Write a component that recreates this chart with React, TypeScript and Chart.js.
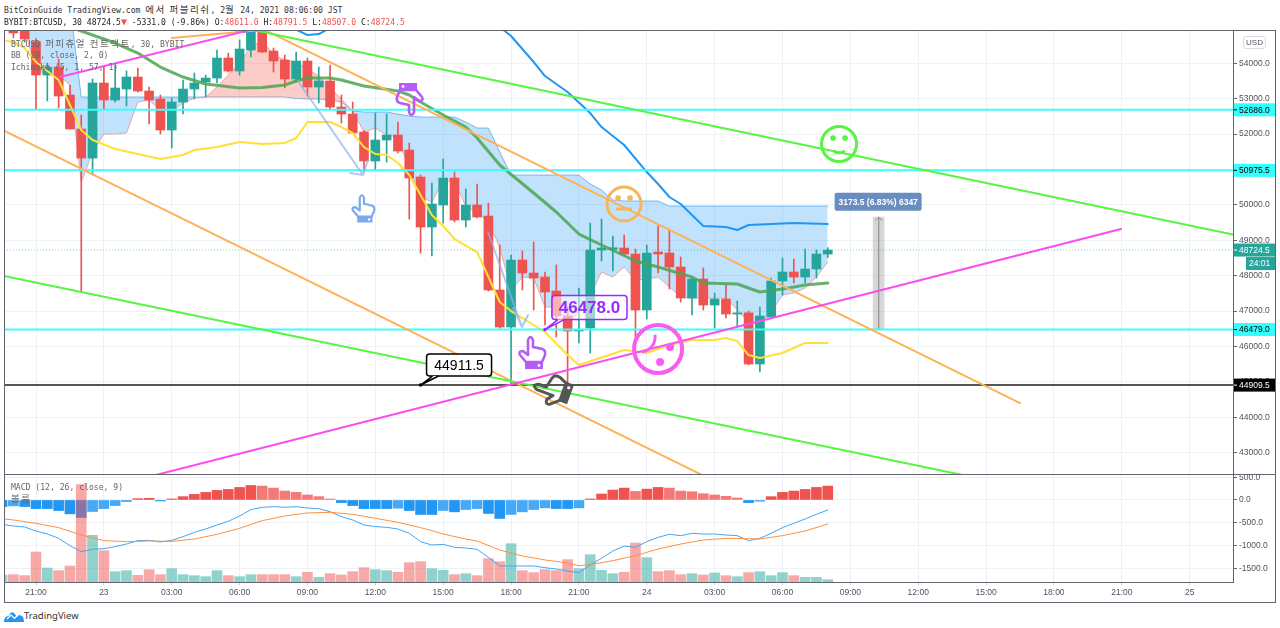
import React, { useEffect, useRef } from "react";
import { Chart } from "chart.js/auto";

// ---------- data ----------
const xTickLabels = ["21:00", "23", "03:00", "06:00", "09:00", "12:00", "15:00", "18:00", "21:00", "24", "03:00", "06:00", "09:00", "12:00", "15:00", "18:00", "21:00", "25"];
const xTickPositions = [2, 8, 14, 20, 26, 32, 38, 44, 50, 56, 62, 68, 74, 80, 86, 92, 98, 104];
const priceTicks = [43000, 44000, 45000, 46000, 47000, 48000, 49000, 50000, 51000, 52000, 53000, 54000];
const macdTicks = [-1500, -1000, -500, 0, 500];

const candleOpen = [54950, 54950, 54610, 53669, 53895, 53104, 52144, 51324, 53443, 52963, 53274, 53613, 53217, 52991, 52115, 52906, 53274, 53471, 53584, 54149, 53782, 54375, 54912, 54347, 54093, 53556, 54065, 53330, 53500, 52765, 52567, 52059, 51240, 51833, 51974, 51550, 50788, 49375, 49997, 50759, 49573, 49997, 49686, 47596, 46550, 48443, 48076, 47963, 47567, 46861, 46437, 46522, 48725, 48740, 48782, 48612, 47030, 48669, 48641, 48245, 47369, 47906, 47172, 47341, 46917, 46950, 45505, 46833, 47850, 48104, 47963, 48189, 48611];
const candleClose = [54856, 54686, 53669, 53895, 53076, 52144, 51324, 53443, 52963, 53302, 53613, 53217, 52963, 52115, 52906, 53274, 53443, 53584, 54149, 53782, 54404, 54960, 54319, 54065, 53556, 54065, 53330, 53500, 52765, 52567, 52031, 51240, 51833, 51974, 51522, 50759, 49375, 50025, 50759, 49573, 49997, 49658, 47596, 46550, 48443, 48076, 47934, 47539, 46861, 46437, 46480, 48725, 48782, 48790, 48612, 47030, 48641, 48612, 48245, 47369, 47906, 47172, 47341, 46917, 46950, 45505, 46861, 47850, 48104, 47963, 48189, 48612, 48724.5];
const candleHigh = [54990, 55000, 54700, 54008, 54121, 53387, 52539, 53556, 53895, 53952, 53782, 53867, 53330, 53104, 53019, 53528, 53726, 53669, 54375, 54291, 54658, 55000, 55000, 54430, 54234, 54319, 54149, 53895, 53952, 53104, 52906, 52100, 52596, 52567, 52341, 51748, 50844, 50618, 51296, 50929, 50449, 50590, 50053, 48867, 48584, 48697, 48951, 48100, 48302, 47115, 47652, 49488, 49601, 49121, 49149, 48754, 48867, 49403, 49319, 48528, 47950, 48217, 47511, 47765, 47285, 47000, 47115, 47934, 48499, 48471, 48754, 48725, 48791.5];
const candleLow = [54720, 54600, 52680, 52935, 52737, 52144, 47539, 50844, 52680, 52906, 52793, 53189, 52285, 52002, 51607, 52567, 52991, 53048, 53443, 53754, 53669, 54178, 54300, 53754, 53302, 53471, 53076, 52878, 52680, 52313, 52031, 50929, 50985, 51211, 51466, 49601, 48641, 48556, 49488, 49516, 49375, 49630, 47567, 46522, 44912, 47596, 47030, 46607, 46268, 44770, 46098, 45816, 48415, 48132, 48584, 46098, 46776, 48076, 47624, 47256, 46889, 47030, 46522, 46804, 46550, 45480, 45279, 46804, 47454, 47793, 47793, 47934, 48507];

const cloudLeadA = [55223, 54969, 53810, 53698, 53669, 53387, 50646, 51494, 52002, 52002, 52031, 52906, 52963, 52680, 52652, 52878, 53019, 53048, 53330, 53669, 54008, 54460, 54658, 54234, 54093, 54037, 53839, 53641, 53302, 52991, 52652, 52059, 52172, 51974, 51918, 50985, 50223, 50081, 50703, 50646, 49968, 49771, 49516, 48810, 47596, 47963, 47934, 47115, 47115, 46663, 46974, 47454, 48104, 47963, 48245, 47878, 47906, 47963, 47680, 47398, 47369, 47369, 47369, 47369, 47030, 46691, 46663, 46974, 47454, 47511, 47652, 47963, 48386];
const cloudLeadB = [55223, 55223, 55223, 55223, 55223, 55647, 53048, 53048, 53048, 53048, 53048, 53048, 53048, 53048, 53048, 53048, 53048, 53048, 53048, 53048, 53048, 53048, 53048, 53048, 53048, 53005, 52991, 52991, 52963, 52906, 52652, 52624, 52624, 52624, 52567, 52511, 52483, 52483, 52483, 52483, 52341, 52172, 52172, 51494, 50844, 50844, 50844, 50844, 50844, 50844, 50844, 50590, 50420, 50138, 50110, 50110, 50110, 50110, 49968, 49968, 49968, 49968, 49968, 49968, 49968, 49968, 49968, 49968, 49968, 49968, 49968, 49968, 49968];

const bbBasisBars = [5, 6, 9, 11, 13, 15, 17, 20, 22, 24, 25, 26, 28, 29, 31, 34, 35, 36, 38, 39, 40, 41, 43, 46, 48, 50, 52, 55, 57, 60, 61, 64, 66, 68, 70, 72];
const bbBasisValues = [55025, 54912, 54573, 54291, 53895, 53613, 53415, 53302, 53316, 53387, 53500, 53584, 53584, 53528, 53358, 53217, 53104, 52906, 52539, 52370, 52200, 51889, 51127, 50336, 49799, 49177, 48867, 48415, 48245, 47963, 47793, 47765, 47539, 47624, 47737, 47793];

const bbUpperBars = [19, 20, 21, 22, 25, 26, 27, 28, 32, 36, 43, 44, 46, 47, 49, 51, 52, 54, 56, 57, 58, 59, 61, 63, 64, 65, 67, 69, 72];
const bbUpperValues = [55025, 54884, 54884, 54969, 54955, 54799, 54827, 55000, 55500, 55600, 55025, 54771, 54037, 53641, 53189, 52596, 52200, 51692, 50929, 50590, 50223, 50025, 49403, 49375, 49290, 49432, 49460, 49488, 49460];

const baseLineBars = [-1, 0, 1, 2, 4, 6, 7, 9, 13, 15, 16, 18, 20, 22, 24, 25, 26, 28, 29, 30, 31, 32, 33, 34, 35, 37, 38, 39, 41, 42, 43, 44, 47, 49, 50, 54, 56, 58, 60, 62, 63, 64, 65, 66, 68, 70, 72];
const baseLineValues = [54658, 54602, 54432, 54037, 53528, 52115, 51833, 51579, 51296, 51409, 51550, 51635, 51777, 51720, 51748, 51889, 52341, 52341, 52200, 52031, 51635, 51438, 51409, 51183, 50844, 49714, 49404, 49036, 48669, 47963, 47256, 47002, 46409, 45759, 45477, 45900, 45816, 46042, 46183, 46183, 46239, 46155, 45759, 45674, 45816, 46098, 46098];

const priceLevels = [52686, 50975.5, 46479];
const supportLevel = 44909.5;
const lastPrice = 48724.5;
const priceLevelLabels = ["52686.0", "50975.5", "46479.0"];

const magentaShort = [[4.12, 53613], [21.98, 55025]];
const magentaLong = [[11.2, 42256], [97.93, 49319]];
const orangeLower = [[-0.83, 52101], [62.5, 42115]];
const orangeUpper = [[21.63, 55037], [89, 44403]];
const orangeShort = [[14, 54715], [21.98, 54940]];
const greenUpper = [[21.63, 54912], [107.83, 49163]];
const greenLower = [[-0.83, 47991], [85, 42299]];
const arrowOne = [[29.76, 50901], [30.91, 50844], [31.35, 51268], [30.91, 50844], [25.16, 53500]];
const arrowTwo = [[44.17, 47087], [44.97, 46550], [45.5, 46889], [44.97, 46550], [41.96, 49234]];
const measureBar = [76.5, 46479, 49652.5];
const measureLabel = "3173.5 (6.83%) 6347";

const macdHist = [-145, -130, -145, -189, -189, -232, -305, -384, -254, -189, -123, -36, 29, 36, -22, 22, 73, 123, 167, 210, 232, 276, 319, 305, 261, 196, 167, 109, 73, 22, -58, -123, -189, -189, -189, -181, -232, -319, -319, -232, -261, -210, -189, -297, -406, -319, -261, -210, -174, -189, -189, -174, 22, 131, 218, 261, 189, 239, 276, 261, 196, 181, 138, 109, 80, 44, -58, -29, 73, 167, 196, 232, 276, 305];
const volumeValues = [2000, 2200, 1900, 9000, 4200, 3400, 4800, 29200, 14000, 9400, 3100, 3400, 2000, 3700, 2200, 4000, 2200, 1900, 1600, 3400, 1900, 1600, 2200, 2200, 2200, 2200, 1600, 2900, 1400, 2500, 2100, 3100, 4300, 3700, 3400, 2900, 5800, 6100, 4000, 3500, 2200, 2500, 1900, 7000, 6100, 11500, 3400, 2800, 3700, 3400, 6700, 4000, 8200, 3500, 2500, 2900, 11700, 7300, 3100, 3400, 2200, 2500, 2100, 2700, 1900, 1600, 2800, 3100, 1900, 2800, 1900, 1400, 1400, 700];
const macdLine = [-535, -572, -594, -682, -748, -843, -1004, -1136, -1085, -1070, -1026, -968, -894, -887, -924, -887, -806, -711, -638, -550, -469, -352, -213, -161, -147, -161, -147, -176, -191, -257, -367, -440, -550, -586, -601, -638, -733, -916, -990, -975, -1041, -1056, -1085, -1261, -1451, -1451, -1451, -1451, -1488, -1517, -1561, -1598, -1429, -1283, -1121, -1012, -1041, -916, -821, -755, -784, -733, -748, -748, -770, -784, -894, -843, -733, -608, -513, -418, -315, -220];
const signalBars = [-1, 0, 2, 4, 6, 8, 10, 12, 14, 16, 18, 20, 22, 24, 26, 28, 30, 32, 34, 36, 37, 38, 40, 41, 43, 45, 47, 49, 50, 51, 53, 55, 57, 59, 61, 63, 65, 66, 68, 70, 72];
const signalLine = [-410, -440, -513, -608, -770, -894, -916, -902, -909, -858, -755, -623, -454, -352, -286, -271, -315, -403, -491, -608, -672, -748, -858, -902, -1100, -1231, -1319, -1385, -1444, -1422, -1334, -1224, -1078, -968, -880, -843, -850, -858, -784, -682, -528];

// annotation anchors: [bar, price]
const smileGreen = [73, 51720];
const smileOrange = [53.99, 50025];
const smileMagenta = [57, 45929];
const handTopPurple = [34.98, 52963];
const handBlue = [31, 49912];
const handLowPurple = [45.94, 45844];
const handDark = [47.6, 44800];
const calloutBlack = { bar: 36, price: 44911.5, text: "44911.5" };
const calloutPurple = { bar: 47, price: 46478, text: "46478.0" };

// ---------- styling ----------
const UP = "#26a69a";
const DOWN = "#ef5350";
const MONO = '"DejaVu Sans Mono", monospace';
const SANS = '"Liberation Sans", sans-serif';
const GRID = "#edf2f6";
const FRAME = "#62656f";
const X_MIN = -0.83;
const X_MAX = 107.83;

const pts = (xs: number[], ys: number[]) => ys.map((y, i) => ({ x: xs[i], y }));
const indexed = (ys: number[], start = 0) => ys.map((y, i) => ({ x: i + start, y }));
const pairs = (p: number[][]) => p.map(([x, y]) => ({ x, y }));

const lineDs = (data: any[], color: string, width: number, order: number, extra: any = {}) => ({
  type: "line", data, borderColor: color, borderWidth: width, pointRadius: 0, tension: 0, order,
  fill: false, borderCapStyle: "round", borderJoinStyle: "round", ...extra,
});

const xScaleBase = {
  type: "linear", min: X_MIN, max: X_MAX, offset: false,
  afterBuildTicks: (s: any) => { s.ticks = xTickPositions.map((value) => ({ value })); },
};

function hand(ctx: CanvasRenderingContext2D, x: number, y: number, rot: number, color: string, scale = 1) {
  ctx.save();
  ctx.translate(x, y);
  ctx.rotate((rot * Math.PI) / 180);
  ctx.scale(scale, scale);
  ctx.strokeStyle = color;
  ctx.fillStyle = color;
  ctx.lineWidth = 2.6;
  ctx.lineJoin = "round";
  ctx.beginPath();
  ctx.moveTo(-7, 10);
  ctx.lineTo(-13, 3);
  ctx.quadraticCurveTo(-15, -1, -10, -1);
  ctx.lineTo(-5, 3);
  ctx.lineTo(-5, -12);
  ctx.quadraticCurveTo(-2.5, -18, 0, -12);
  ctx.lineTo(0, -5);
  ctx.lineTo(9, -3);
  ctx.quadraticCurveTo(13, -2, 12, 3);
  ctx.lineTo(9, 10);
  ctx.closePath();
  ctx.stroke();
  ctx.fillRect(-8, 10, 18, 7);
  ctx.fillStyle = "#fff";
  ctx.beginPath();
  ctx.arc(6, 13.5, 1.4, 0, Math.PI * 2);
  ctx.fill();
  ctx.restore();
}

function smile(ctx: CanvasRenderingContext2D, x: number, y: number, r: number, color: string, kind: string) {
  ctx.save();
  ctx.strokeStyle = color;
  ctx.fillStyle = color;
  ctx.lineWidth = kind === "magenta" ? 4 : 3;
  ctx.beginPath();
  ctx.arc(x, y, r, 0, Math.PI * 2);
  ctx.stroke();
  const dot = (dx: number, dy: number, rad: number) => {
    ctx.beginPath();
    ctx.arc(x + dx, y + dy, rad, 0, Math.PI * 2);
    ctx.fill();
  };
  if (kind === "happy") {
    dot(-6, -6, 2.8);
    dot(6, -6, 2.8);
    ctx.beginPath();
    ctx.arc(x, y + 1, 8, 0.25 * Math.PI, 0.75 * Math.PI);
    ctx.stroke();
  } else if (kind === "neutral") {
    dot(-6, -6, 2.8);
    dot(6, -6, 2.8);
    ctx.beginPath();
    ctx.moveTo(x - 8, y + 5);
    ctx.lineTo(x + 8, y + 5);
    ctx.stroke();
  } else {
    dot(2, 13, 4);
    dot(12, -2, 4);
    ctx.lineWidth = 3;
    ctx.beginPath();
    ctx.arc(x - 18, y - 12, 15, -0.15, 1.45);
    ctx.stroke();
  }
  ctx.restore();
}

function roundRect(ctx: CanvasRenderingContext2D, x: number, y: number, w: number, h: number, r: number) {
  ctx.beginPath();
  ctx.roundRect(x, y, w, h, r);
}

function callout(ctx: CanvasRenderingContext2D, ax: number, ay: number, dx: number, dy: number, w: number, h: number, color: string, fill: string, text: string, font: string) {
  const bx = ax + dx;
  const by = ay + dy;
  ctx.save();
  ctx.fillStyle = fill;
  ctx.strokeStyle = color;
  ctx.lineWidth = 1.5;
  roundRect(ctx, bx, by, w, h, 3);
  ctx.fill();
  ctx.stroke();
  ctx.beginPath();
  ctx.moveTo(bx + 6, by + h);
  ctx.lineTo(ax, ay);
  ctx.lineTo(bx + 12, by + h);
  ctx.fillStyle = "#fff";
  ctx.fill();
  ctx.stroke();
  ctx.fillStyle = color;
  ctx.beginPath();
  ctx.arc(ax, ay, 1.8, 0, Math.PI * 2);
  ctx.fill();
  ctx.font = font;
  ctx.textAlign = "center";
  ctx.textBaseline = "middle";
  ctx.fillStyle = color;
  ctx.fillText(text, bx + w / 2, by + h / 2 + 1);
  ctx.restore();
}

function axisTag(ctx: CanvasRenderingContext2D, area: any, width: number, y: number, bg: string, fg: string, text: string) {
  const left = area.right + 1;
  ctx.fillStyle = bg;
  ctx.fillRect(left, y - 6.5, width - 1, 13);
  ctx.fillStyle = fg;
  ctx.fillRect(area.right + 1, y - 0.5, 3, 1);
  ctx.font = `8.5px ${SANS}`;
  ctx.textAlign = "left";
  ctx.textBaseline = "middle";
  ctx.fillText(text, area.right + 6, y + 0.5);
}

const overlayPlugin = {
  id: "overlay",
  afterDatasetsDraw(chart: any) {
    const { ctx, chartArea: a, scales } = chart;
    const X = (v: number) => scales.x.getPixelForValue(v);
    const Y = (v: number) => scales.y.getPixelForValue(v);
    ctx.save();
    ctx.beginPath();
    ctx.rect(a.left, a.top, a.right - a.left, a.bottom - a.top);
    ctx.clip();
    smile(ctx, X(smileGreen[0]), Y(smileGreen[1]), 17.5, "#55f542", "happy");
    smile(ctx, X(smileOrange[0]), Y(smileOrange[1]), 17, "#f7b45c", "neutral");
    smile(ctx, X(smileMagenta[0]), Y(smileMagenta[1]), 24, "#fb5cf0", "magenta");
    hand(ctx, X(handTopPurple[0]), Y(handTopPurple[1]), 180, "#b45cf5");
    hand(ctx, X(handBlue[0]), Y(handBlue[1]), 0, "#7da9ef", 0.85);
    hand(ctx, X(handLowPurple[0]), Y(handLowPurple[1]), 0, "#b45cf5");
    hand(ctx, X(handDark[0]), Y(handDark[1]), -70, "#555555", 1.15);
    callout(ctx, X(calloutBlack.bar), Y(calloutBlack.price), 6, -31, 65, 22, "#000", "#fff", calloutBlack.text, `14px ${SANS}`);
    callout(ctx, X(calloutPurple.bar), Y(calloutPurple.price), 7, -34, 75, 24, "#9c27ff", "rgba(255,255,255,0.55)", calloutPurple.text, `bold 17px ${SANS}`);
    const mx = X(measureBar[0]);
    const my = Y(measureBar[2]) - 24;
    ctx.fillStyle = "#6a8dbf";
    roundRect(ctx, mx - 44, my - 0.5, 87, 18, 2);
    ctx.fill();
    ctx.fillStyle = "#fff";
    ctx.font = `bold 8.5px ${SANS}`;
    ctx.textAlign = "center";
    ctx.textBaseline = "middle";
    ctx.fillText(measureLabel, mx - 0.5, my + 9);
    ctx.restore();
  },
  afterDraw(chart: any) {
    const { ctx, chartArea: a, scales, width } = chart;
    const w = width - a.right;
    const Y = (v: number) => scales.y.getPixelForValue(v);
    ctx.save();
    priceLevels.forEach((p, i) => axisTag(ctx, a, w, Y(p), "#33ffff", "#000", priceLevelLabels[i]));
    axisTag(ctx, a, w, Y(supportLevel), "#000", "#fff", supportLevel.toFixed(1));
    axisTag(ctx, a, w, Y(lastPrice), UP, "#fff", lastPrice.toFixed(1));
    const cy = Y(lastPrice) + 13.5;
    ctx.fillStyle = UP;
    ctx.fillRect(a.right + 13, cy - 6.5, w - 13, 13);
    ctx.fillStyle = "#fff";
    ctx.font = `8.5px ${SANS}`;
    ctx.textAlign = "left";
    ctx.fillText("24:01", a.right + 16, cy + 0.5);
    ctx.restore();
  },
};

const yTickFont = { family: SANS, size: 8.5 };
const fitY = (s: any) => { s.width = 43; s.paddingTop = 0; s.paddingBottom = 0; };

function mainConfig(): any {
  const upColors = candleOpen.map((o, i) => (candleClose[i] >= o ? UP : DOWN));
  const bars = candleOpen.map((o, i) => ({ x: i, y: [o, candleClose[i]] }));
  const wicks = candleOpen.map((_, i) => ({ x: i, y: [candleLow[i], candleHigh[i]] }));
  const horizontal = (v: number) => [{ x: X_MIN, y: v }, { x: X_MAX, y: v }];
  return {
    type: "bar",
    data: {
      datasets: [
        lineDs(indexed(cloudLeadA), "#eaa3a3", 1, 90, { fill: { target: "+1", above: "rgba(244,67,54,0.27)", below: "rgba(33,150,243,0.28)" } }),
        lineDs(indexed(cloudLeadB), "#86bdee", 1, 91),
        ...priceLevels.map((p) => lineDs(horizontal(p), "#3ffcfc", 2, 20)),
        lineDs(horizontal(supportLevel), "#555", 2, 20),
        lineDs(horizontal(lastPrice), "rgba(38,166,154,0.55)", 1, 30, { borderDash: [1, 2], borderCapStyle: "butt" }),
        { type: "bar", data: [{ x: measureBar[0], y: [measureBar[1], measureBar[2]] }], backgroundColor: "rgba(160,160,160,0.42)", barThickness: 11, grouped: false, order: 60 },
        lineDs(pairs([[measureBar[0] - 0.3, measureBar[2] - 90], [measureBar[0], measureBar[2]], [measureBar[0] + 0.3, measureBar[2] - 90], [measureBar[0], measureBar[2]], [measureBar[0], measureBar[1]]]), "#9a9a9a", 1, 59),
        { type: "bar", data: wicks, backgroundColor: upColors, barThickness: 1, grouped: false, order: 51 },
        { type: "bar", data: bars, backgroundColor: upColors, barThickness: 9, grouped: false, order: 50 },
        lineDs(pts(bbBasisBars, bbBasisValues), "rgba(76,165,80,0.85)", 3, 40),
        lineDs(pts(baseLineBars, baseLineValues), "#ffe135", 2, 39),
        lineDs(pts(bbUpperBars, bbUpperValues), "#2196f3", 2, 38),
        lineDs(pairs(arrowOne), "rgba(140,178,235,0.7)", 2, 15),
        lineDs(pairs(arrowTwo), "rgba(140,178,235,0.7)", 2, 15),
        lineDs(pairs(orangeLower), "#ffb255", 2, 12),
        lineDs(pairs(orangeUpper), "#ffb255", 2, 12),
        lineDs(pairs(orangeShort), "#ffb255", 2, 12),
        lineDs(pairs(greenUpper), "#55f542", 2, 11),
        lineDs(pairs(greenLower), "#55f542", 2, 11),
        lineDs(pairs(magentaShort), "#fb4cf0", 2, 10),
        lineDs(pairs(magentaLong), "#fb4cf0", 2, 10),
      ],
    },
    options: {
      animation: false, responsive: false, maintainAspectRatio: false,
      layout: { padding: 0 },
      plugins: { legend: { display: false }, tooltip: { enabled: false } },
      scales: {
        x: {
          ...xScaleBase,
          border: { display: false },
          grid: { color: GRID, drawTicks: false, offset: false },
          ticks: { display: false },
          afterFit: (s: any) => { s.height = 0; s.paddingLeft = 0; s.paddingRight = 0; },
        },
        y: {
          type: "linear", position: "right", min: 42398, max: 54941,
          afterBuildTicks: (s: any) => { s.ticks = priceTicks.map((value) => ({ value })); },
          border: { display: true, color: FRAME },
          grid: { color: GRID, tickColor: FRAME, tickLength: 4 },
          ticks: { padding: 2, color: "#50535e", font: yTickFont, callback: (v: number) => v.toFixed(1) },
          afterFit: fitY,
        },
      },
    },
    plugins: [overlayPlugin],
  };
}

function lowerConfig(): any {
  const histColors = macdHist.map((v, i) => {
    const prev = i > 0 ? macdHist[i - 1] : v;
    if (v >= 0) return v >= prev ? "#ef5350" : "#f47a78";
    return v <= prev ? "#2196f3" : "#47a8f5";
  });
  const volColors = volumeValues.map((_, i) => {
    if (i === 0) return "rgba(38,166,154,0.5)";
    return candleClose[i - 1] >= candleOpen[i - 1] ? "rgba(38,166,154,0.5)" : "rgba(239,83,80,0.5)";
  });
  return {
    type: "bar",
    data: {
      datasets: [
        { type: "bar", data: indexed(macdHist, -1), backgroundColor: histColors, barThickness: 10, grouped: false, yAxisID: "y", order: 30 },
        { type: "bar", data: indexed(volumeValues, -1), backgroundColor: volColors, barThickness: 10, grouped: false, yAxisID: "yVol", order: 20 },
        lineDs(indexed(macdLine, -1), "#42a5f5", 1, 10),
        lineDs(pts(signalBars, signalLine), "#ff8f3f", 1, 9),
      ],
    },
    options: {
      animation: false, responsive: false, maintainAspectRatio: false,
      layout: { padding: 0 },
      plugins: { legend: { display: false }, tooltip: { enabled: false } },
      scales: {
        x: {
          ...xScaleBase,
          border: { display: true, color: FRAME },
          grid: { color: GRID, tickColor: "#c8ccd2", tickLength: 3, offset: false },
          ticks: { autoSkip: false, maxRotation: 0, padding: 3, color: "#50535e", font: { family: SANS, size: 8.5 }, callback: (_: number, i: number) => xTickLabels[i] },
          afterFit: (s: any) => { s.height = 21; s.paddingLeft = 0; s.paddingRight = 0; },
        },
        y: {
          type: "linear", position: "right", min: -1803, max: 571,
          afterBuildTicks: (s: any) => { s.ticks = macdTicks.map((value) => ({ value })); },
          border: { display: true, color: FRAME },
          grid: { color: GRID, tickColor: FRAME, tickLength: 4 },
          ticks: { padding: 2, color: "#50535e", font: yTickFont, callback: (v: number) => v.toFixed(1) },
          afterFit: fitY,
        },
        yVol: { type: "linear", display: false, min: 0, max: 32400 },
      },
    },
  };
}

const abs = (left: number, top: number, extra: React.CSSProperties = {}): React.CSSProperties => ({ position: "absolute", left, top, ...extra });
const monoText: React.CSSProperties = { fontFamily: MONO, fontSize: 8.1, lineHeight: "11px", whiteSpace: "pre" };
const red = { color: "#ef5350" };
const hangul: React.CSSProperties = { fontFamily: '"Noto Sans CJK KR", sans-serif', fontSize: 9.5, letterSpacing: 1.5 };

export default function App() {
  const mainRef = useRef<HTMLCanvasElement>(null);
  const lowerRef = useRef<HTMLCanvasElement>(null);
  useEffect(() => {
    const a = new Chart(mainRef.current as any, mainConfig());
    const b = new Chart(lowerRef.current as any, lowerConfig());
    return () => { a.destroy(); b.destroy(); };
  }, []);
  return (
    <div style={{ position: "fixed", left: 0, top: 0, width: 1280, height: 628, background: "#fff", overflow: "hidden" }}>
      <canvas ref={mainRef} width={1272} height={444} style={abs(4, 30, { width: 1272, height: 444, display: "block" })} />
      <canvas ref={lowerRef} width={1272} height={129} style={abs(4, 474, { width: 1272, height: 129, display: "block" })} />
      <div style={abs(4, 30, { width: 1272, height: 573, boxSizing: "border-box", border: `1px solid ${FRAME}`, pointerEvents: "none" })} />
      <div style={abs(4, 474, { width: 1272, height: 1, background: FRAME })} />

      <div style={abs(4, 4, { ...monoText, color: "#333" })}>BitCoinGuide TradingView.com <span style={hangul}>에서 퍼블리쉬</span>, 2<span style={hangul}>월</span> 24, 2021 08:06:00 JST</div>
      <div style={abs(4, 16, { ...monoText, color: "#222" })}>
        BYBIT:BTCUSD, 30 48724.5<span style={{ ...red, fontSize: 10 }}>▼</span> -5331.0 (-9.86%) O:<span style={red}>48611.0</span> H:<span style={red}>48791.5</span> L:<span style={red}>48507.0</span> C:<span style={red}>48724.5</span>
      </div>
      <div style={abs(11, 38, { ...monoText, color: "#666" })}>BTCUSD <span style={hangul}>퍼피츄얼 컨트랙트</span>, 30, BYBIT</div>
      <div style={abs(11, 50, { ...monoText, color: "#666" })}>BB (20, close, 2, 0)</div>
      <div style={abs(11, 62, { ...monoText, color: "#666" })}>Ichimoku (5, 1, 57, 1)</div>
      <div style={abs(11, 482, { ...monoText, color: "#666" })}>MACD (12, 26, close, 9)</div>
      <div style={abs(11, 493, { ...monoText, color: "#666" })}><span style={hangul}>볼륨</span></div>

      <div style={abs(1243, 36, { width: 23, height: 13, boxSizing: "border-box", border: "1px solid #d8dbe0", borderRadius: 3, background: "#fff", color: "#50535e", fontFamily: SANS, fontSize: 8, lineHeight: "11px", textAlign: "center" })}>USD</div>

      <svg width={20} height={12} viewBox="0 0 20 12" style={abs(4, 610)}>
        <path d="M0 12 C0 8 2 6 5 6 C6 3 8 1 10 3 L13 7 L16 4 C18 4 20 8 20 12 Z" fill="#2196f3" />
        <path d="M3 9 L7 5 L10.5 8.5 L15 3.5 L18 6" fill="none" stroke="#fff" strokeWidth="1.2" />
      </svg>
      <div style={abs(24, 609, { fontFamily: '"Noto Sans", sans-serif', fontSize: 9.5, lineHeight: "13px", color: "#333" })}>TradingView</div>
    </div>
  );
}
